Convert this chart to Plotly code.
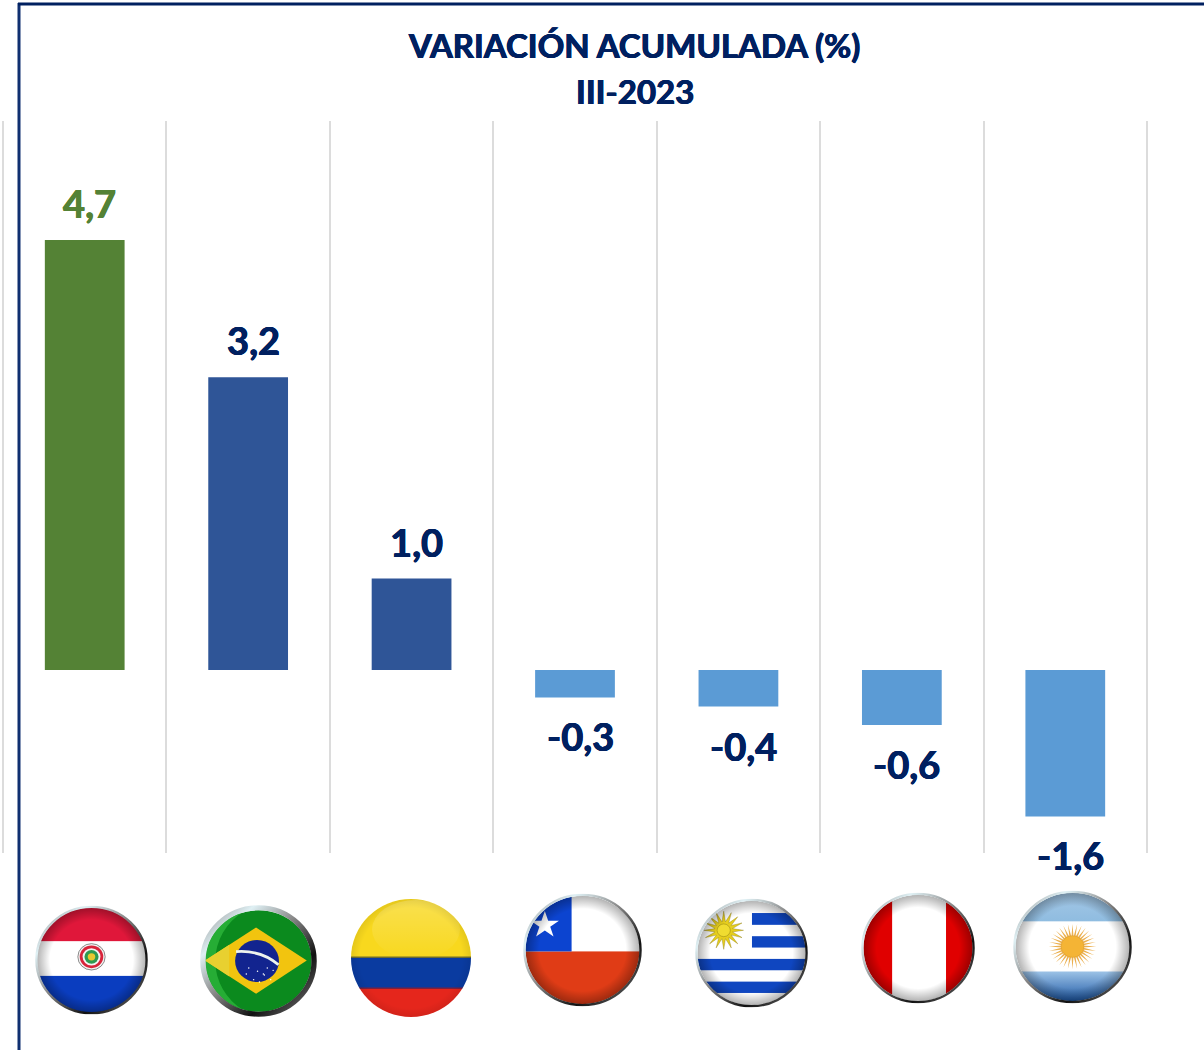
import base64, math
import plotly.graph_objects as go

# ---- data ----
countries = ["Paraguay", "Brasil", "Colombia", "Chile", "Uruguay", "Perú", "Argentina"]
values = [4.7, 3.2, 1.0, -0.3, -0.4, -0.6, -1.6]
labels = ["4,7", "3,2", "1,0", "-0,3", "-0,4", "-0,6", "-1,6"]
bar_colors = ["#548235", "#2F5597", "#2F5597", "#5B9BD5", "#5B9BD5", "#5B9BD5", "#5B9BD5"]
label_colors = ["#548235", "#002060", "#002060", "#002060", "#002060", "#002060", "#002060"]
title_line = "VARIACIÓN ACUMULADA (%)"
subtitle_line = "III-2023"

W, H = 1204, 1050
ML, MR, MT, MB = 3, 57, 121, 197
NAVY = "#002060"
GRID = "#DCDCDC"


def px(x):
    return (x - ML) / (W - ML - MR)


def py(y):
    return 1 - (y - MT) / (H - MT - MB)


def heavy(col):
    return f"0.6px 0 0 {col}, -0.4px 0 0 {col}, 0 0.3px 0 {col}"


def star(cx, cy, r_out, r_in, n, rot=-90):
    pts = []
    for i in range(2 * n):
        r = r_out if i % 2 == 0 else r_in
        a = math.radians(rot + i * 180 / n)
        pts.append(f"{cx + r * math.cos(a):.1f},{cy + r * math.sin(a):.1f}")
    return " ".join(pts)


RING = """<linearGradient id="ring" x1="0" y1="0" x2="1" y2="1">
<stop offset="0" stop-color="#8c8c8c"/><stop offset=".22" stop-color="#dff0f4"/>
<stop offset=".45" stop-color="#8a8a8a"/><stop offset=".72" stop-color="#111111"/>
<stop offset=".9" stop-color="#555555"/><stop offset="1" stop-color="#b0b0b0"/></linearGradient>"""
VIGN = """<radialGradient id="vig" cx=".5" cy=".5" r=".5">
<stop offset=".76" stop-color="#000" stop-opacity="0"/>
<stop offset="1" stop-color="#000" stop-opacity=".3"/></radialGradient>"""


def flag(body, ring=True, ring_w=5, clip_r=115, vig=True, defs=""):
    parts = ['<svg xmlns="http://www.w3.org/2000/svg" viewBox="0 0 240 240" width="240" height="240">',
             f'<defs>{RING}{VIGN}{defs}<clipPath id="c"><circle cx="120" cy="120" r="{clip_r}"/></clipPath></defs>',
             f'<g clip-path="url(#c)">{body}']
    if vig:
        parts.append(f'<circle cx="120" cy="120" r="{clip_r}" fill="url(#vig)"/>')
    parts.append('</g>')
    if ring:
        parts.append(f'<circle cx="120" cy="120" r="{120 - ring_w / 2 - 0.5}" fill="none" stroke="url(#ring)" stroke-width="{ring_w}"/>')
    parts.append('</svg>')
    svg = "".join(parts)
    return "data:image/svg+xml;base64," + base64.b64encode(svg.encode()).decode()


def rect(x, y, w, h, c):
    return f'<rect x="{x}" y="{y}" width="{w}" height="{h}" fill="{c}"/>'


def circ(x, y, r, c, extra=""):
    return f'<circle cx="{x}" cy="{y}" r="{r}" fill="{c}" {extra}/>'


paraguay = flag(
    rect(0, 0, 240, 79, "#E0173A") + rect(0, 79, 240, 76, "#FFFFFF") + rect(0, 155, 240, 85, "#0A3DBF")
    + circ(120, 113, 29, "#F4F4F4", 'stroke="#333" stroke-width="1.2"') + circ(120, 113, 25, "#D8243A")
    + circ(120, 113, 19, "#F4F4F4") + circ(120, 113, 15, "#2E9A50") + circ(120, 113, 8, "#E8C830"),
    clip_r=116)

brazil_band = '<path d="M74 100 Q125 96 161 128" stroke="#EDF3EE" stroke-width="6" fill="none"/>'
brazil_dots = "".join(circ(x, y, 1.5, "#FFFFFF") for x, y in
                      [(100, 135), (118, 142), (132, 150), (145, 160), (110, 160), (130, 148), (150, 140), (95, 148), (122, 165), (138, 135)])
brazil = flag(
    rect(0, 0, 240, 240, "#0B8A1E")
    + '<path d="M10 120 A110 110 0 0 1 90 14 A125 125 0 0 0 90 226 A110 110 0 0 1 10 120Z" fill="#26AD35"/>'
    + '<polygon points="10,119 115,48 219,119 115,190" fill="#F2C40F"/>'
    + '<polygon points="10,119 60,85 60,153" fill="#E8D030"/>'
    + circ(117, 120, 45, "#12248F") + brazil_band + brazil_dots,
    ring_w=11, clip_r=109, vig=False)

colombia_defs = """<linearGradient id="gl" x1="0" y1="0" x2="0" y2="1">
<stop offset="0" stop-color="#fff" stop-opacity=".22"/><stop offset="1" stop-color="#fff" stop-opacity="0"/></linearGradient>
<radialGradient id="vc" cx=".5" cy=".5" r=".5"><stop offset=".85" stop-color="#000" stop-opacity="0"/>
<stop offset="1" stop-color="#000" stop-opacity=".08"/></radialGradient>"""
colombia = flag(
    rect(0, 0, 240, 119, "#F8D81E") + rect(0, 119, 240, 63, "#0A3BA0") + rect(0, 182, 240, 58, "#E5261C")
    + '<ellipse cx="130" cy="62" rx="88" ry="60" fill="url(#gl)"/>'
    + rect(0, 117, 240, 3, "#6B6A30") + rect(0, 180, 240, 3, "#7A2040")
    + circ(120, 120, 120, "url(#vc)"),
    ring=False, clip_r=120, vig=False, defs=colombia_defs)

chile = flag(
    rect(0, 0, 240, 123, "#FFFFFF") + rect(0, 123, 240, 117, "#E03C16") + rect(0, 0, 98, 123, "#0C44D0")
    + f'<polygon points="{star(44, 67, 30, 11.5, 5)}" fill="#FFFFFF"/>')

uruguay = flag(
    rect(0, 0, 240, 240, "#FFFFFF")
    + rect(121, 32, 119, 26, "#0F46C0") + rect(121, 83, 119, 25, "#0F46C0")
    + rect(0, 133, 240, 25, "#0F46C0") + rect(0, 183, 240, 25, "#0F46C0")
    + f'<polygon points="{star(61, 70, 42, 19, 16)}" fill="#E6CE1E" stroke="#8a7a10" stroke-width=".8"/>'
    + circ(61, 70, 14, "#F0DC30", 'stroke="#8a7a10" stroke-width="1"'))

peru = flag(
    rect(0, 0, 66, 240, "#E00000") + rect(66, 0, 113, 240, "#FFFFFF") + rect(179, 0, 61, 240, "#E00000"))

arg_defs = """<linearGradient id="tb" x1="0" y1="0" x2="0" y2="1"><stop offset="0" stop-color="#A5C8E6"/><stop offset="1" stop-color="#8FBCE0"/></linearGradient>
<linearGradient id="bb" x1="0" y1="0" x2="0" y2="1"><stop offset="0" stop-color="#9CC2E6"/><stop offset="1" stop-color="#1450A0"/></linearGradient>"""
argentina = flag(
    rect(0, 0, 240, 66, "url(#tb)") + rect(0, 66, 240, 106, "#FFFFFF") + rect(0, 172, 240, 68, "url(#bb)")
    + f'<polygon points="{star(120, 119, 48, 21, 32)}" fill="#EBB050"/>'
    + circ(120, 119, 23, "#F4B435", 'stroke="#D89A30" stroke-width="1"'),
    defs=arg_defs)

# flag sources and their box on the page: centre x, centre y, width, height
flags = [
    (paraguay, 91.5, 960, 113, 109),
    (brazil, 258.5, 961, 117, 112),
    (colombia, 411, 958, 120, 118),
    (chile, 582.5, 950, 119, 113),
    (uruguay, 751.5, 953, 113, 109),
    (peru, 918, 948, 114, 111),
    (argentina, 1072.5, 947, 119, 113),
]

fig = go.Figure(go.Bar(
    x=countries, y=values, marker=dict(color=bar_colors, line_width=0),
    width=0.488, hoverinfo="x+y", showlegend=False,
))

for name, val, lab, col in zip(countries, values, labels, label_colors):
    fig.add_annotation(
        x=name, y=val, text=f"<b>{lab}</b>", showarrow=False, xshift=5,
        yshift=37 if val > 0 else -39, yanchor="middle", xanchor="center",
        font=dict(family="Lato", size=38, color=col, weight=800, shadow=heavy(col)),
    )

fig.add_annotation(
    xref="paper", yref="paper", x=px(634.5), y=py(91.5), text=f"<b>{subtitle_line}</b>",
    showarrow=False, yanchor="middle", xanchor="center",
    font=dict(family="Lato", size=33, color=NAVY, weight=800, shadow=heavy(NAVY)),
)

# outer gridlines of the plot area
for edge in (0, 1):
    fig.add_shape(type="line", xref="paper", yref="paper", x0=edge, x1=edge, y0=0, y1=1,
                  line=dict(color=GRID, width=2), layer="below")

# frame around the picture
fig.add_shape(type="line", xref="paper", yref="paper", x0=px(19), x1=px(19), y0=py(3), y1=py(1050),
              line=dict(color="#0F2F70", width=3))
fig.add_shape(type="line", xref="paper", yref="paper", x0=px(18), x1=px(1204), y0=py(4), y1=py(4),
              line=dict(color=NAVY, width=3))

images = [dict(source=src, xref="paper", yref="paper", x=px(cx), y=py(cy), sizex=w / (W - ML - MR),
               sizey=h / (H - MT - MB), xanchor="center", yanchor="middle", sizing="stretch", layer="above")
          for src, cx, cy, w, h in flags]

fig.update_layout(
    width=W, height=H, autosize=False,
    margin=dict(l=ML, r=MR, t=MT, b=MB, pad=0),
    paper_bgcolor="#FFFFFF", plot_bgcolor="#FFFFFF",
    title=dict(text=f"<b>{title_line}</b>", x=634.5 / W, y=1 - 46 / H, xanchor="center", yanchor="middle",
               xref="container", yref="container",
               font=dict(family="Lato", size=33, color=NAVY, weight=800, shadow=heavy(NAVY))),
    xaxis=dict(type="category", categoryorder="array", categoryarray=countries, showticklabels=False,
               showgrid=True, gridcolor=GRID, gridwidth=2, tickson="boundaries", ticks="",
               zeroline=False, showline=False, fixedrange=True),
    yaxis=dict(range=[-2, 6], visible=False, showgrid=False, zeroline=False, fixedrange=True),
    images=images, bargap=0.51,
)

fig.write_html("out.html", config={"displayModeBar": False},
               post_script="document.body.style.margin='0';document.body.style.overflow='hidden';")
